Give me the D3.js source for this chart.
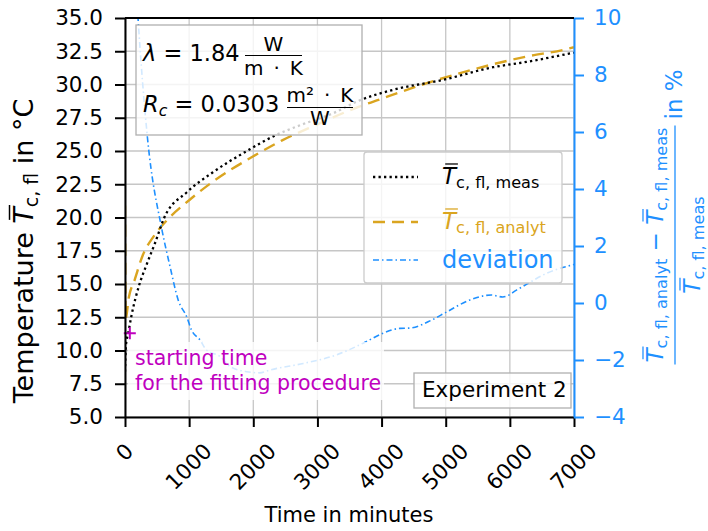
<!DOCTYPE html>
<html lang="en">
<head>
<meta charset="utf-8">
<title>Experiment 2</title>
<script src="https://d3js.org/d3.v7.min.js"></script>
<style>
  body { margin: 0; background: #fff; }
  svg { font-family: "DejaVu Sans", sans-serif; }
  text { white-space: pre; }
</style>
</head>
<body>
<div id="chart"></div>
<script>
// measured mean fluid temperature (minutes, °C)
var measTime = [0, 15, 50, 100, 220, 340, 470, 613, 965, 1370, 1900, 2310, 2735, 3250, 3630, 4180, 4960, 5740, 6260, 7000];
var measTemp = [8.4, 10.4, 11.3, 12.6, 14.9, 16.5, 18.1, 20.0, 21.9, 23.4, 25.0, 26.1, 26.95, 27.85, 28.75, 29.6, 30.35, 31.3, 31.7, 32.4];

// analytical solution (minutes, °C)
var analytTime = [0, 10, 60, 150, 280, 450, 655, 1000, 1400, 2000, 2450, 3000, 3630, 3925, 4705, 5480, 6260, 6830, 7000];
var analytTemp = [20.9, 12.4, 14.0, 15.3, 17.2, 18.6, 19.8, 21.3, 22.8, 24.6, 25.8, 27.0, 28.3, 28.8, 30.1, 31.2, 32.1, 32.6, 32.8];

// relative deviation in % (minutes, %)
var devTime = [150, 203, 343, 577, 700, 830, 965, 1037, 1170, 1270, 1482, 1638, 1898, 2100, 2261, 2780, 3298, 3713, 4024, 4284, 4440, 4780, 5010, 5370, 5710, 5890, 6110, 6270, 6580, 7000];
var devValue = [12.0, 10.0, 5.96, 2.56, 1.3, 0.1, -0.5, -0.95, -1.3, -1.65, -1.88, -2.23, -2.41, -2.45, -2.35, -2.12, -1.82, -1.41, -1.06, -0.89, -0.88, -0.6, -0.32, 0.1, 0.28, 0.21, 0.46, 0.67, 1.05, 1.35];

// starting point of the fitting procedure
var startTime = [75];
var startTemp = [11.3];

var xTicks = [0, 1000, 2000, 3000, 4000, 5000, 6000, 7000];
var yTicks = [5.0, 7.5, 10.0, 12.5, 15.0, 17.5, 20.0, 22.5, 25.0, 27.5, 30.0, 32.5, 35.0];
var y2Ticks = [-4, -2, 0, 2, 4, 6, 8, 10];

var orange = "#DAA520", blue = "#1E90FF", magenta = "#BF00BF";

var margin = {top: 18, right: 134, bottom: 114, left: 125};
var width = 708 - margin.left - margin.right;
var height = 531 - margin.top - margin.bottom;

var root = d3.select("#chart").append("svg")
    .attr("width", 708).attr("height", 531);
var svg = root.append("g")
    .attr("transform", "translate(" + margin.left + "," + margin.top + ")");

var x = d3.scaleLinear().domain([0, 7000]).range([0, width]);
var y = d3.scaleLinear().domain([5, 35]).range([height, 0]);
var y2 = d3.scaleLinear().domain([-4, 10]).range([height, 0]);

// text with italic / subscript / overline pieces, returns width
function mathText(g, pieces, size, color) {
    var pos = 0;
    pieces.forEach(function(p) {
        var fs = p.sub || p.sup ? size * 0.7 : size;
        var dy = p.sub ? size * 0.17 : (p.sup ? -size * 0.38 : 0);
        var t = g.append("text")
            .attr("x", pos).attr("y", dy)
            .style("font-size", fs + "px")
            .style("font-style", p.it ? "italic" : "normal")
            .attr("fill", color)
            .text(p.t);
        var w = t.node().getComputedTextLength();
        if (p.bar) {
            g.append("line")
                .attr("x1", pos + fs * 0.14).attr("x2", pos + w + fs * 0.08)
                .attr("y1", -fs * 0.87).attr("y2", -fs * 0.87)
                .attr("stroke", color).attr("stroke-width", Math.max(1, fs * 0.055));
        }
        pos += w;
    });
    return pos;
}

function tbar(sub) {
    return [{t: "T", it: true, bar: true}, {t: sub, sub: true}];
}

//grid
svg.append("g").selectAll("line")
    .data(xTicks).join("line")
    .attr("x1", d => x(d)).attr("x2", d => x(d))
    .attr("y1", 0).attr("y2", height)
    .attr("stroke", "#c6c6c6").attr("stroke-width", 1.3);
svg.append("g").selectAll("line")
    .data(yTicks).join("line")
    .attr("x1", 0).attr("x2", width)
    .attr("y1", d => y(d)).attr("y2", d => y(d))
    .attr("stroke", "#c6c6c6").attr("stroke-width", 1.3);

svg.append("clipPath").attr("id", "clip")
    .append("rect").attr("width", width).attr("height", height);

var plot = svg.append("g").attr("clip-path", "url(#clip)");

var lineT = d3.line().x(d => x(d[0])).y(d => y(d[1])).curve(d3.curveMonotoneX);
var lineD = d3.line().x(d => x(d[0])).y(d => y2(d[1])).curve(d3.curveMonotoneX);

plot.append("path")
    .datum(analytTime.map((t, i) => [t, analytTemp[i]]))
    .attr("d", lineT)
    .attr("fill", "none").attr("stroke", orange)
    .attr("stroke-width", 2.4).attr("stroke-dasharray", "12,7");

plot.append("path")
    .datum(measTime.map((t, i) => [t, measTemp[i]]))
    .attr("d", lineT)
    .attr("fill", "none").attr("stroke", "#000")
    .attr("stroke-width", 2.3).attr("stroke-dasharray", "2.3,3.2");

plot.append("path")
    .datum(devTime.map((t, i) => [t, devValue[i]]))
    .attr("d", lineD)
    .attr("fill", "none").attr("stroke", blue)
    .attr("stroke-width", 1.6).attr("stroke-dasharray", "6,3,1.5,3");

// start marker
svg.append("g").selectAll("path")
    .data(startTime.map((t, i) => [t, startTemp[i]]))
    .join("path")
    .attr("transform", d => "translate(" + x(d[0]) + "," + y(d[1]) + ")")
    .attr("d", "M-6,0H6M0,-6V6")
    .attr("stroke", magenta).attr("stroke-width", 2).attr("fill", "none");

// axes
var xAxis = svg.append("g")
    .attr("transform", "translate(0," + height + ")")
    .call(d3.axisBottom(x).tickValues(xTicks).tickFormat(d3.format("d")).tickSize(10).tickSizeOuter(0));
var yAxis = svg.append("g")
    .call(d3.axisLeft(y).tickValues(yTicks).tickFormat(d3.format(".1f")).tickSize(10).tickPadding(12).tickSizeOuter(0));
var y2Axis = svg.append("g")
    .attr("transform", "translate(" + width + ",0)")
    .call(d3.axisRight(y2).tickValues(y2Ticks).tickSize(10).tickPadding(10).tickSizeOuter(0));

svg.append("line").attr("x1", 0).attr("x2", width).attr("y1", 0).attr("y2", 0)
    .attr("stroke", "#000").attr("stroke-width", 2);

[xAxis, yAxis].forEach(function(a) {
    a.selectAll(".domain").attr("stroke", "#000").attr("stroke-width", 2);
    a.selectAll(".tick line").attr("stroke", "#000").attr("stroke-width", 2);
    a.selectAll("text").attr("fill", "#000").style("font-size", "21.5px")
        .style("font-family", "DejaVu Sans");
});
y2Axis.selectAll(".domain").attr("stroke", blue).attr("stroke-width", 2);
y2Axis.selectAll(".tick line").attr("stroke", blue).attr("stroke-width", 2);
y2Axis.selectAll("text").attr("fill", blue).style("font-size", "21.5px")
    .style("font-family", "DejaVu Sans");

// rotated x tick labels, centred below each tick
xAxis.selectAll(".tick text").each(function() {
    var t = d3.select(this);
    t.attr("y", 0).attr("dy", null)
        .attr("text-anchor", "middle").attr("dominant-baseline", "central");
    var w = this.getComputedTextLength();
    var cy = 25 + (w + 15) * 0.3536;
    t.attr("transform", "translate(-1," + cy + ") rotate(-45)");
});

// x label
root.append("text")
    .attr("x", 349).attr("y", 522)
    .attr("text-anchor", "middle")
    .style("font-size", "21px")
    .text("Time in minutes");

// left y label
var yl = root.append("g");
var ylw = mathText(yl, [{t: "Temperature "}].concat(tbar("c, fl")).concat([{t: " in °C"}]), 27, "#000");
yl.attr("transform", "translate(33,251) rotate(-90) translate(" + (-ylw / 2) + ",0)");

// right y label (fraction)
var rl = root.append("g").attr("transform", "translate(675,245) rotate(-90)");
var num = rl.append("g");
var wn = mathText(num, tbar("c, fl, analyt").concat([{t: " − "}]).concat(tbar("c, fl, meas")), 23, blue);
num.attr("transform", "translate(" + (-wn / 2) + ",-12)");
rl.append("line").attr("x1", -wn / 2 - 2).attr("x2", wn / 2 + 2)
    .attr("y1", 0).attr("y2", 0).attr("stroke", blue).attr("stroke-width", 1.3);
var den = rl.append("g");
var wd = mathText(den, tbar("c, fl, meas"), 23, blue);
den.attr("transform", "translate(" + (-wd / 2) + ",25)");
rl.append("text").attr("x", wn / 2 + 8).attr("y", 7)
    .style("font-size", "23px").attr("fill", blue).text("in %");

// parameter box
root.append("rect")
    .attr("x", 136).attr("y", 25).attr("width", 226).attr("height", 110)
    .attr("fill", "#fff").attr("fill-opacity", 0.8)
    .attr("stroke", "#b0b0b0").attr("stroke-width", 1.3);
var p1 = root.append("g").attr("transform", "translate(143,61)");
mathText(p1, [{t: "λ", it: true}, {t: " = 1.84"}], 22.5, "#000");
root.append("text").attr("x", 273.5).attr("y", 51).attr("text-anchor", "middle")
    .style("font-size", "20px").text("W");
root.append("line").attr("x1", 245).attr("x2", 302).attr("y1", 55.5).attr("y2", 55.5)
    .attr("stroke", "#000").attr("stroke-width", 1.2);
root.append("text").attr("x", 273.5).attr("y", 75).attr("text-anchor", "middle")
    .style("font-size", "20px").text("m\u2002·\u2002K");
var p2 = root.append("g").attr("transform", "translate(143,112)");
mathText(p2, [{t: "R", it: true}, {t: "c", it: true, sub: true}, {t: " = 0.0303"}], 22.5, "#000");
root.append("text").attr("x", 320).attr("y", 102).attr("text-anchor", "middle")
    .style("font-size", "20px").text("m²\u2002·\u2002K");
root.append("line").attr("x1", 287).attr("x2", 353).attr("y1", 107.5).attr("y2", 107.5)
    .attr("stroke", "#000").attr("stroke-width", 1.2);
root.append("text").attr("x", 320).attr("y", 125).attr("text-anchor", "middle")
    .style("font-size", "20px").text("W");

// legend
root.append("rect")
    .attr("x", 364).attr("y", 152).attr("width", 198).attr("height", 131).attr("rx", 3)
    .attr("fill", "#fff").attr("fill-opacity", 0.8)
    .attr("stroke", "#cccccc").attr("stroke-width", 1.3);
var legend = [
    {y: 177, color: "#000", dash: "2.3,3.2", w: 2.3},
    {y: 222, color: orange, dash: "12,7", w: 2.4},
    {y: 260, color: blue, dash: "6,3,1.5,3", w: 1.6}
];
root.append("g").selectAll("line").data(legend).join("line")
    .attr("x1", 373).attr("x2", 418)
    .attr("y1", d => d.y).attr("y2", d => d.y)
    .attr("stroke", d => d.color).attr("stroke-width", d => d.w)
    .attr("stroke-dasharray", d => d.dash);
mathText(root.append("g").attr("transform", "translate(442,184)"), tbar("c, fl, meas"), 23, "#000");
mathText(root.append("g").attr("transform", "translate(442,229)"), tbar("c, fl, analyt"), 23, orange);
root.append("text").attr("x", 442).attr("y", 268)
    .style("font-size", "24px").attr("fill", blue).text("deviation");

// experiment label
root.append("rect")
    .attr("x", 414).attr("y", 373).attr("width", 157).attr("height", 35)
    .attr("fill", "#fff").attr("fill-opacity", 0.8)
    .attr("stroke", "#b0b0b0").attr("stroke-width", 1.3);
root.append("text").attr("x", 422).attr("y", 397)
    .style("font-size", "21.5px").text("Experiment 2");

// starting time note
root.append("rect")
    .attr("x", 128).attr("y", 342).attr("width", 256).attr("height", 58)
    .attr("fill", "#fff").attr("fill-opacity", 0.8);
root.append("text").attr("x", 135).attr("y", 365)
    .style("font-size", "20.5px").attr("fill", magenta).text("starting time");
root.append("text").attr("x", 135).attr("y", 390)
    .style("font-size", "20.5px").attr("fill", magenta).text("for the fitting procedure");
</script>
</body>
</html>
